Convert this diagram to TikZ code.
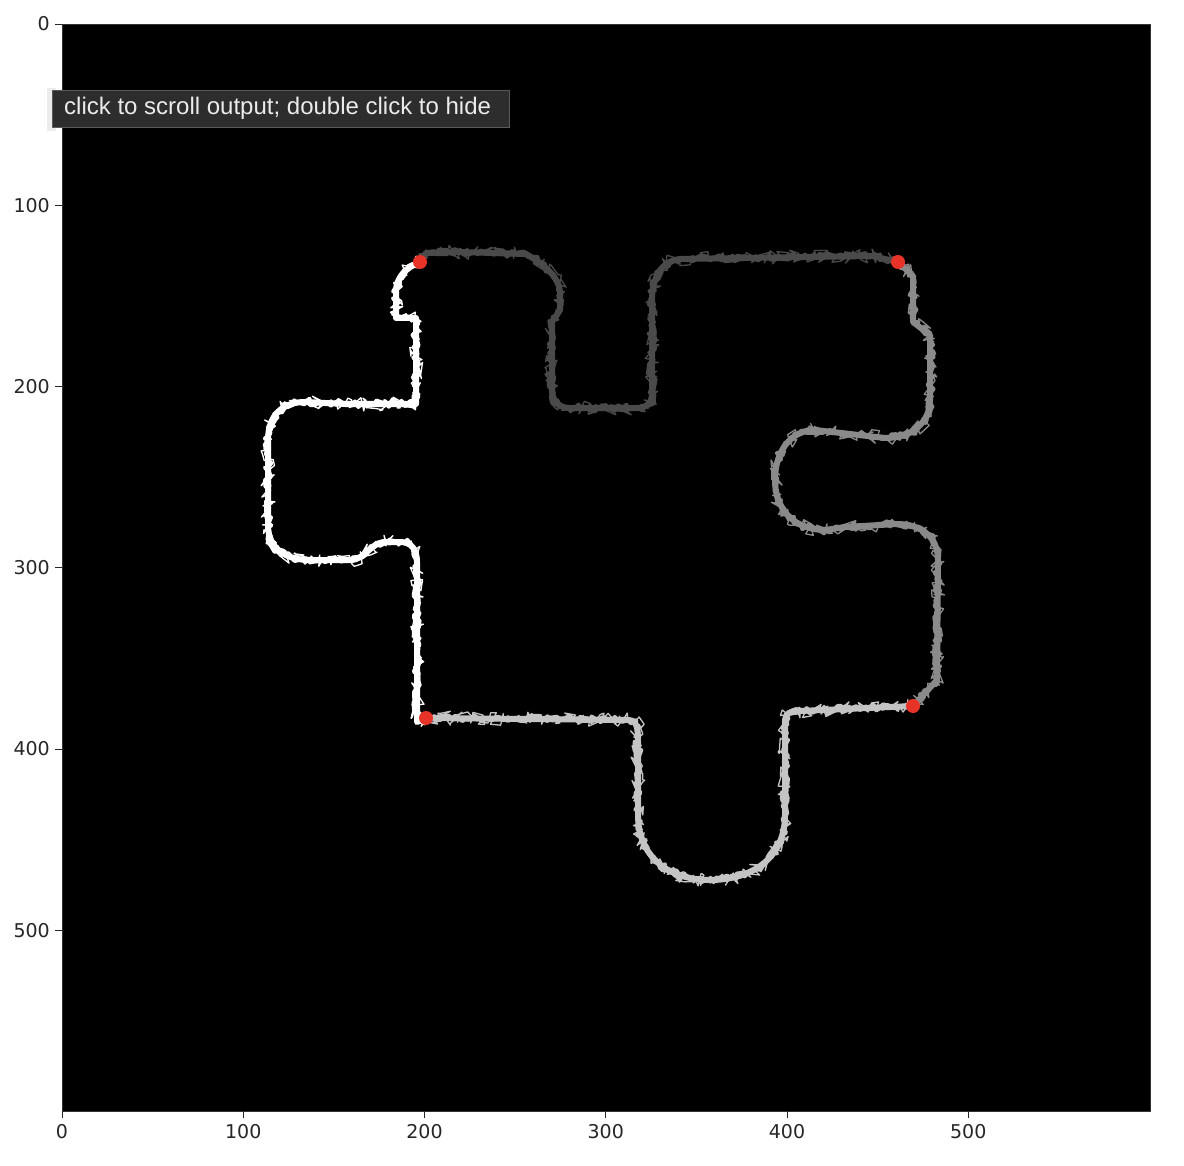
\documentclass[tikz,border=0pt]{standalone}
\usepackage{fontspec}
\setmainfont{DejaVu Sans}
\newfontfamily\tipfont{Liberation Sans}
\usetikzlibrary{decorations.pathmorphing}
\definecolor{segW}{RGB}{255,255,255}
\definecolor{segL}{RGB}{196,196,196}
\definecolor{segM}{RGB}{138,138,138}
\definecolor{segD}{RGB}{74,74,74}
\definecolor{dotred}{RGB}{232,52,40}
\definecolor{tipbg}{RGB}{45,45,45}
\definecolor{tipedge}{RGB}{90,90,90}
\tikzset{
  band/.style={draw=#1, line width=6, line join=round, line cap=round,
    postaction={draw=#1, decorate, decoration={random steps, segment length=3, amplitude=3.5}, line width=4},
    postaction={draw=#1, decorate, decoration={random steps, segment length=2.5, amplitude=7}, line width=1.3}},
  reddot/.style={circle, fill=dotred, inner sep=0pt, minimum size=14},
  ticklab/.style={font=\fontsize{19}{19}\selectfont, text=black!85, inner sep=0pt},
  tickmark/.style={draw=black!85, line width=0.9},
}
\begin{document}
\begin{tikzpicture}[x=1pt,y=-1pt]
\pgfmathsetseed{11}
\useasboundingbox (0,0) rectangle (1184,1166);
\fill[white] (0,0) rectangle (1184,1166);
\fill[black] (62,24) rectangle (1150,1111);
\draw[black!80, line width=0.8] (62,24) rectangle (1150,1111);

% ticks
\foreach \v/\p in {0/62,100/243.25,200/424.5,300/605.75,400/787,500/968.25}{
  \draw[tickmark] (\p,1111) -- (\p,1118);
  \node[ticklab, anchor=north] (xl\v) at (\p,1124) {\v};
}
\foreach \v/\p in {0/24,100/205.25,200/386.5,300/567.75,400/749,500/930.25}{
  \draw[tickmark] (62,\p) -- (55,\p);
  \node[ticklab, anchor=east] (yl\v) at (50,\p) {\v};
}

% corner points
\coordinate (cTL) at (420,262);
\coordinate (cTR) at (898,262);
\coordinate (cBL) at (426,718);
\coordinate (cBR) at (913,706);

% white segment (left side)
\draw[band=segW] (cTL) .. controls (405,268) and (396,278) .. (396,292) -- (396,318) -- (416,318) -- (416,404)
  -- (345,404) -- (305,402) .. controls (282,402) and (268,416) .. (268,440) -- (268,525)
  .. controls (268,548) and (285,560) .. (310,560) -- (350,560) .. controls (366,560) and (370,542) .. (386,542)
  -- (400,542) .. controls (411,542) and (417,549) .. (417,562) -- (417,722) -- (cBL);

% light grey segment (bottom side)
\draw[band=segL] (cBL) -- (628,720) .. controls (637,720) and (638,728) .. (638,742) -- (638,815)
  .. controls (638,858) and (670,880) .. (710,880) .. controls (752,880) and (785,858) .. (785,815)
  -- (785,722) .. controls (785,713) and (790,711) .. (800,711) -- (cBR);

% mid grey segment (right side)
\draw[band=segM] (cBR) -- (926,692) -- (937,680) -- (938,560) .. controls (938,536) and (920,524) .. (897,524)
  -- (845,527) -- (825,530) .. controls (795,530) and (775,510) .. (775,480)
  .. controls (775,450) and (792,430) .. (815,430) -- (885,438) .. controls (915,438) and (930,420) .. (930,400)
  -- (930,335) -- (913,322) -- (913,276) -- (cTR);

% dark grey segment (top side)
\draw[band=segD] (cTR) -- (872,256) -- (680,259) .. controls (661,261) and (652,278) .. (652,300)
  -- (652,393) .. controls (652,404) and (646,408) .. (636,408) -- (570,408)
  .. controls (558,408) and (552,400) .. (552,390) -- (552,322) -- (560,310) -- (560,292)
  .. controls (560,278) and (542,262) .. (525,254) -- (460,252) -- (426,253) -- (cTL);

% red dots
\node[reddot] (pTL) at (cTL) {};
\node[reddot] (pTR) at (cTR) {};
\node[reddot] (pBL) at (cBL) {};
\node[reddot] (pBR) at (cBR) {};

% tooltip
\fill[black!12, opacity=0.6] (47,88) rectangle (56,131);
\node[draw=tipedge, fill=tipbg, line width=0.8, anchor=north west, minimum width=457, minimum height=37,
      inner xsep=0pt, inner ysep=0pt] (tip) at (52,90) {};
\node[anchor=west, inner sep=0pt, text=white!92!black, font=\tipfont\fontsize{24}{24}\selectfont] (tiptext) at (64,108.5)
  {click to scroll output; double click to hide};
\end{tikzpicture}
\end{document}
